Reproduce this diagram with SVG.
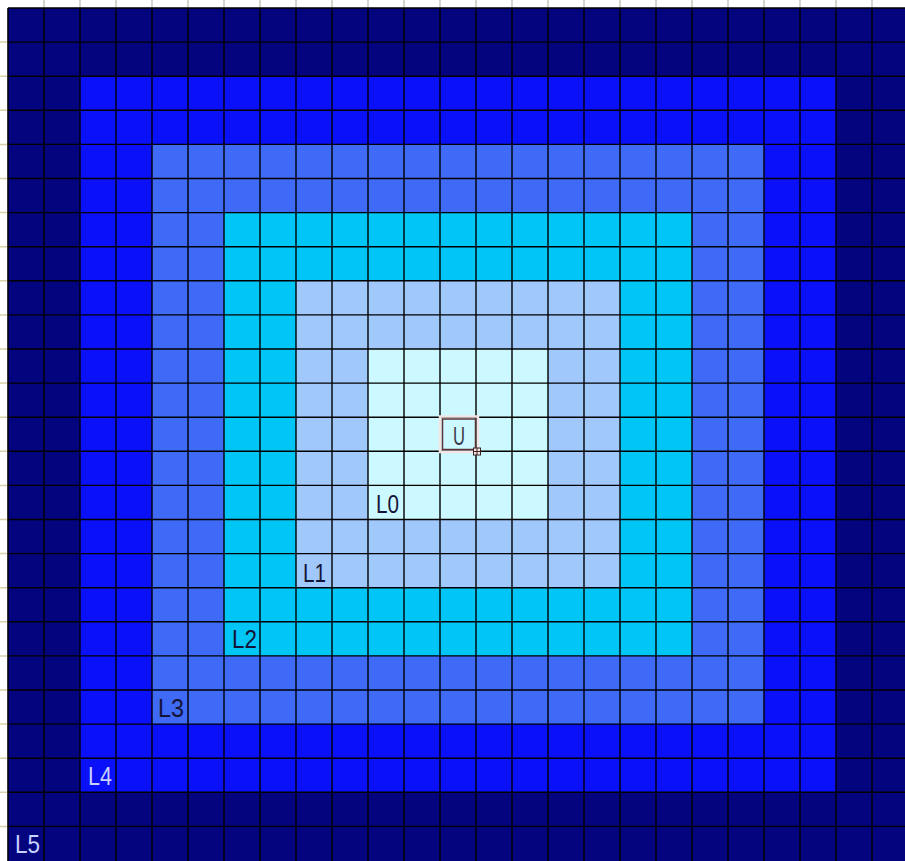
<svg xmlns="http://www.w3.org/2000/svg" width="905" height="861" viewBox="0 0 905 861">
<defs>
<style>
.lbl{font-family:"Liberation Sans",Arial,sans-serif;font-size:25px;}
.dk{fill:#141438;}
.lt{fill:#c8d0ff;}
.grid{stroke:#000;stroke-width:1.4;fill:none;}
.tick{stroke:#c8c8c0;stroke-width:1.5;}
.ltick{stroke:#d8d2a8;stroke-width:1.5;}
</style>
</defs>
<rect x="0" y="0" width="905" height="861" fill="#ffffff"/>
<g id="ruler">
<path class="tick" d="M44 0V8M80 0V8M116 0V8M152 0V8M188 0V8M224 0V8M260 0V8M296 0V8M332 0V8M368 0V8M404 0V8M440 0V8M476 0V8M512 0V8M548 0V8M584 0V8M620 0V8M656 0V8M692 0V8M728 0V8M764 0V8M800 0V8M836 0V8M872 0V8"/>
<path class="ltick" d="M0 42.1H7M0 76.2H7M0 110.3H7M0 144.4H7M0 178.5H7M0 212.6H7M0 246.7H7M0 280.8H7M0 314.9H7M0 349H7M0 383.1H7M0 417.2H7M0 451.3H7M0 485.4H7M0 519.5H7M0 553.6H7M0 587.7H7M0 621.8H7M0 655.9H7M0 690H7M0 724.1H7M0 758.2H7M0 792.3H7M0 826.4H7"/>
<path d="M7.5 8V861" stroke="#b0b0b0" stroke-width="1"/>
</g>
<g id="L5"><rect x="8" y="8" width="897" height="853" fill="#04047f"/></g>
<g id="L4"><rect x="80" y="76.2" width="756" height="716.1" fill="#0a10f8"/></g>
<g id="L3"><rect x="152" y="144.4" width="612" height="579.7" fill="#3f6af5"/></g>
<g id="L2"><rect x="224" y="212.6" width="468" height="443.3" fill="#00c6f5"/></g>
<g id="L1"><rect x="296" y="280.8" width="324" height="306.9" fill="#a0c8fa"/></g>
<g id="L0"><rect x="368" y="349" width="180" height="170.5" fill="#ccf8ff"/></g>
<g id="gridlines">
<path class="grid" d="M8 8V861M44 8V861M80 8V861M116 8V861M152 8V861M188 8V861M224 8V861M260 8V861M296 8V861M332 8V861M368 8V861M404 8V861M440 8V861M476 8V861M512 8V861M548 8V861M584 8V861M620 8V861M656 8V861M692 8V861M728 8V861M764 8V861M800 8V861M836 8V861M872 8V861"/>
<path class="grid" d="M8 8H905M8 42.1H905M8 76.2H905M8 110.3H905M8 144.4H905M8 178.5H905M8 212.6H905M8 246.7H905M8 280.8H905M8 314.9H905M8 349H905M8 383.1H905M8 417.2H905M8 451.3H905M8 485.4H905M8 519.5H905M8 553.6H905M8 587.7H905M8 621.8H905M8 655.9H905M8 690H905M8 724.1H905M8 758.2H905M8 792.3H905M8 826.4H905"/>
</g>
<g id="labels">
<text class="lbl dk" x="376" y="513" textLength="23" lengthAdjust="spacingAndGlyphs">L0</text>
<text class="lbl dk" x="303" y="582" textLength="23" lengthAdjust="spacingAndGlyphs">L1</text>
<text class="lbl dk" x="232" y="648" textLength="25" lengthAdjust="spacingAndGlyphs">L2</text>
<text class="lbl dk" x="158" y="717" textLength="26" lengthAdjust="spacingAndGlyphs">L3</text>
<text class="lbl lt" x="88" y="785" textLength="24" lengthAdjust="spacingAndGlyphs">L4</text>
<text class="lbl lt" x="15" y="853" textLength="25" lengthAdjust="spacingAndGlyphs">L5</text>
</g>
<g id="U">
<rect x="440" y="416.5" width="38" height="35.5" fill="none" stroke="#f4e4e4" stroke-width="2.5"/>
<rect x="442.5" y="419" width="33" height="30.5" fill="none" stroke="#5a3434" stroke-width="1.5"/>
<text class="lbl" fill="#3a3a4a" x="453" y="445" textLength="12" lengthAdjust="spacingAndGlyphs">U</text>
<rect x="473.5" y="448" width="7" height="7" fill="#f4e4e4" stroke="#3a2020" stroke-width="1"/>
<path d="M477 448V455M473.5 451.5H480.5" stroke="#3a2020" stroke-width="1"/>
</g>
</svg>
